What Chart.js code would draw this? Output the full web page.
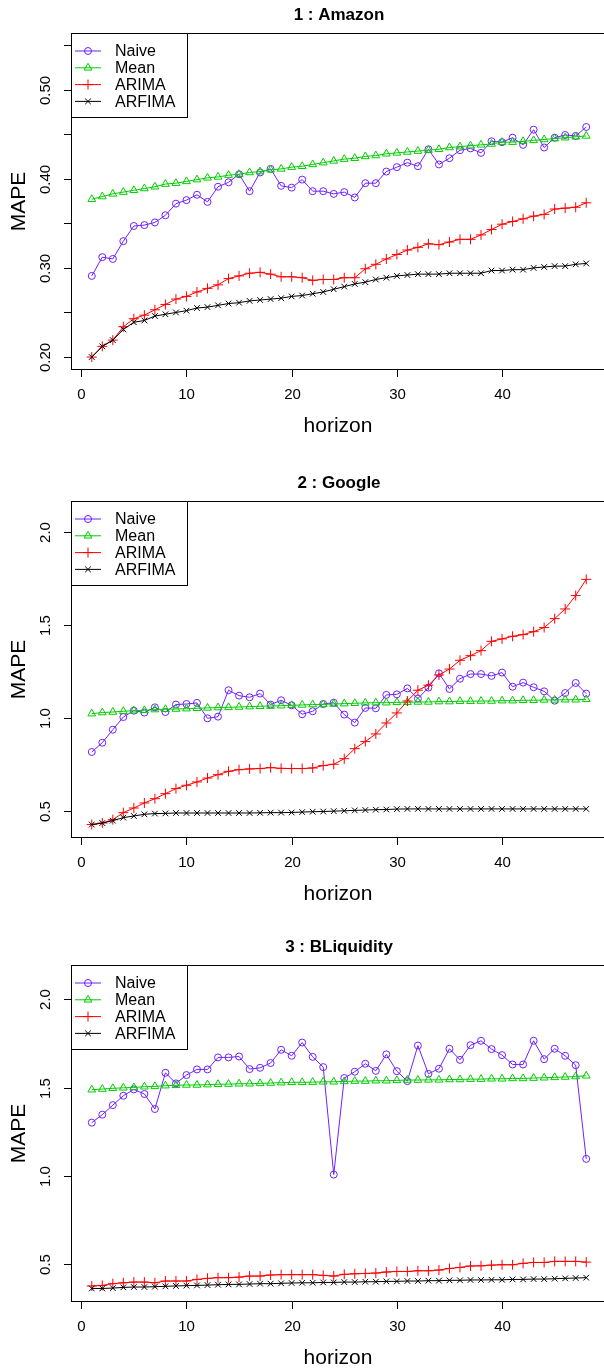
<!DOCTYPE html>
<html>
<head>
<meta charset="utf-8">
<script src="https://cdn.jsdelivr.net/npm/chart.js@4.4.0/dist/chart.umd.min.js"></script>
<style>
    html, body { margin: 0; padding: 0; background: #fff; overflow: hidden; width: 604px; height: 1371px; position: relative; }
    canvas { position: absolute; left: 0; }
</style>
</head>
<body>
<canvas id="amazonChart" width="612" height="466" style="top:0px"></canvas>
<canvas id="googleChart" width="612" height="464" style="top:468px"></canvas>
<canvas id="bliqChart" width="612" height="439" style="top:932px"></canvas>
<script>
/* ============================
   DATA
============================ */
const horizon = [1, 2, 3, 4, 5, 6, 7, 8, 9, 10, 11, 12, 13, 14, 15, 16, 17, 18, 19, 20, 21, 22, 23, 24,
    25, 26, 27, 28, 29, 30, 31, 32, 33, 34, 35, 36, 37, 38, 39, 40, 41, 42, 43, 44, 45, 46, 47, 48];
const seriesNames = ["Naive", "Mean", "ARIMA", "ARFIMA"];
const xTicks = [0, 10, 20, 30, 40];

// ---- 1 : Amazon ----
const amazonNaive = [0.291, 0.312, 0.310, 0.330, 0.347, 0.348, 0.351, 0.359, 0.372, 0.376,
    0.382, 0.374, 0.391, 0.396, 0.405, 0.386, 0.407, 0.411, 0.392, 0.390,
    0.399, 0.386, 0.386, 0.383, 0.385, 0.379, 0.395, 0.395, 0.408, 0.413,
    0.418, 0.414, 0.433, 0.416, 0.423, 0.432, 0.434, 0.429, 0.442, 0.441,
    0.446, 0.438, 0.455, 0.435, 0.446, 0.449, 0.448, 0.458];
const amazonMean = [0.377, 0.380, 0.383, 0.385, 0.387, 0.389, 0.391, 0.394, 0.395, 0.397,
    0.399, 0.401, 0.402, 0.404, 0.405, 0.407, 0.408, 0.410, 0.411, 0.413,
    0.414, 0.416, 0.418, 0.420, 0.422, 0.423, 0.425, 0.426, 0.428, 0.429,
    0.430, 0.431, 0.432, 0.433, 0.435, 0.436, 0.437, 0.438, 0.439, 0.441,
    0.441, 0.442, 0.443, 0.444, 0.445, 0.446, 0.447, 0.448];
const amazonArima = [0.200, 0.212, 0.219, 0.234, 0.243, 0.247, 0.253, 0.259, 0.265, 0.268,
    0.273, 0.277, 0.281, 0.288, 0.291, 0.294, 0.295, 0.293, 0.290, 0.290,
    0.289, 0.286, 0.287, 0.287, 0.289, 0.289, 0.299, 0.304, 0.310, 0.315,
    0.320, 0.323, 0.327, 0.326, 0.329, 0.332, 0.332, 0.337, 0.343, 0.349,
    0.352, 0.355, 0.358, 0.360, 0.366, 0.367, 0.368, 0.373];
const amazonArfima = [0.200, 0.212, 0.219, 0.231, 0.239, 0.241, 0.246, 0.248, 0.250, 0.252,
    0.255, 0.256, 0.258, 0.260, 0.261, 0.263, 0.264, 0.265, 0.266, 0.268,
    0.269, 0.271, 0.273, 0.276, 0.279, 0.282, 0.284, 0.287, 0.289, 0.291,
    0.292, 0.293, 0.293, 0.293, 0.294, 0.294, 0.294, 0.294, 0.297, 0.297,
    0.298, 0.298, 0.300, 0.301, 0.302, 0.302, 0.304, 0.305];
const amazonYTicks = [0.20, 0.25, 0.30, 0.35, 0.40, 0.45, 0.50, 0.55];
const amazonYLabels = ["0.20", "", "0.30", "", "0.40", "", "0.50", ""];

// ---- 2 : Google ----
const googleNaive = [0.817, 0.867, 0.937, 1.005, 1.039, 1.029, 1.057, 1.032, 1.072, 1.075,
    1.081, 0.998, 1.007, 1.149, 1.120, 1.111, 1.131, 1.072, 1.095, 1.068,
    1.020, 1.036, 1.075, 1.082, 1.018, 0.975, 1.054, 1.052, 1.124, 1.127,
    1.159, 1.104, 1.163, 1.240, 1.156, 1.211, 1.236, 1.236, 1.226, 1.244,
    1.168, 1.190, 1.165, 1.143, 1.093, 1.134, 1.188, 1.131];
const googleMean = [1.023, 1.029, 1.032, 1.036, 1.039, 1.041, 1.045, 1.047, 1.048, 1.050,
    1.052, 1.054, 1.056, 1.057, 1.059, 1.061, 1.063, 1.064, 1.066, 1.068,
    1.070, 1.072, 1.073, 1.075, 1.077, 1.079, 1.081, 1.082, 1.082, 1.084,
    1.084, 1.086, 1.086, 1.088, 1.088, 1.090, 1.090, 1.091, 1.091, 1.093,
    1.093, 1.095, 1.095, 1.097, 1.097, 1.098, 1.098, 1.100];
const googleArima = [0.427, 0.435, 0.453, 0.491, 0.516, 0.543, 0.566, 0.593, 0.620, 0.638,
    0.656, 0.677, 0.695, 0.713, 0.722, 0.726, 0.728, 0.733, 0.729, 0.728,
    0.728, 0.731, 0.744, 0.751, 0.781, 0.835, 0.873, 0.914, 0.973, 1.027,
    1.091, 1.149, 1.176, 1.231, 1.263, 1.310, 1.335, 1.362, 1.412, 1.425,
    1.439, 1.448, 1.464, 1.486, 1.534, 1.586, 1.658, 1.745];
const googleArfima = [0.427, 0.435, 0.448, 0.464, 0.473, 0.482, 0.486, 0.487, 0.489, 0.489,
    0.489, 0.489, 0.489, 0.489, 0.489, 0.489, 0.490, 0.491, 0.491, 0.492,
    0.494, 0.496, 0.497, 0.499, 0.501, 0.503, 0.505, 0.507, 0.508, 0.510,
    0.511, 0.511, 0.511, 0.511, 0.511, 0.511, 0.511, 0.511, 0.511, 0.511,
    0.511, 0.511, 0.511, 0.511, 0.511, 0.511, 0.511, 0.511];
const googleYTicks = [0.5, 1.0, 1.5, 2.0];
const googleYLabels = ["0.5", "1.0", "1.5", "2.0"];

// ---- 3 : BLiquidity ----
const bliqNaive = [1.302, 1.347, 1.401, 1.454, 1.490, 1.464, 1.379, 1.584, 1.524, 1.571,
    1.603, 1.603, 1.671, 1.671, 1.676, 1.605, 1.612, 1.639, 1.714, 1.680,
    1.755, 1.674, 1.616, 1.008, 1.554, 1.590, 1.635, 1.595, 1.688, 1.593,
    1.537, 1.738, 1.578, 1.607, 1.720, 1.657, 1.740, 1.765, 1.718, 1.684,
    1.631, 1.631, 1.765, 1.661, 1.720, 1.680, 1.627, 1.097];
const bliqMean = [1.488, 1.492, 1.496, 1.499, 1.501, 1.505, 1.507, 1.511, 1.513, 1.515,
    1.515, 1.517, 1.519, 1.520, 1.522, 1.522, 1.524, 1.526, 1.528, 1.530,
    1.530, 1.531, 1.533, 1.533, 1.535, 1.537, 1.537, 1.539, 1.539, 1.541,
    1.543, 1.543, 1.544, 1.544, 1.546, 1.546, 1.548, 1.548, 1.550, 1.550,
    1.552, 1.552, 1.554, 1.556, 1.558, 1.560, 1.563, 1.567];
const bliqArima = [0.378, 0.381, 0.391, 0.396, 0.400, 0.400, 0.396, 0.406, 0.406, 0.406,
    0.415, 0.421, 0.425, 0.425, 0.428, 0.434, 0.434, 0.440, 0.442, 0.442,
    0.442, 0.442, 0.438, 0.434, 0.444, 0.447, 0.449, 0.451, 0.457, 0.460,
    0.460, 0.464, 0.464, 0.468, 0.477, 0.483, 0.491, 0.492, 0.496, 0.498,
    0.498, 0.506, 0.511, 0.511, 0.517, 0.517, 0.517, 0.513];
const bliqArfima = [0.364, 0.364, 0.366, 0.370, 0.372, 0.372, 0.374, 0.376, 0.378, 0.380,
    0.381, 0.383, 0.385, 0.387, 0.387, 0.389, 0.391, 0.391, 0.393, 0.395,
    0.396, 0.396, 0.398, 0.398, 0.400, 0.400, 0.402, 0.402, 0.404, 0.404,
    0.406, 0.406, 0.408, 0.408, 0.410, 0.410, 0.412, 0.412, 0.413, 0.413,
    0.415, 0.415, 0.417, 0.417, 0.419, 0.421, 0.423, 0.425];
const bliqYTicks = [0.5, 1.0, 1.5, 2.0];
const bliqYLabels = ["0.5", "1.0", "1.5", "2.0"];

/* ============================
   STYLE
============================ */
const FONT = "'Liberation Sans', Arial, Helvetica, sans-serif";
const seriesStyle = [
    { color: "#7020ff", pointStyle: "circle", radius: 3.5 },
    { color: "#00cd00", pointStyle: "triangle", radius: 4.5 },
    { color: "#ff0000", pointStyle: "cross", radius: 5 },
    { color: "#000000", pointStyle: "crossRot", radius: 4 },
];

// ======== R-LIKE FRAME, AXES, TITLE, LEGEND ========
const rFrame = {
    id: "rFrame",
    afterDraw(chart, args, opts) {
        const ctx = chart.ctx;
        const area = chart.chartArea;
        const xs = chart.scales.x;
        const ys = chart.scales.y;
        ctx.save();
        ctx.strokeStyle = "#000";
        ctx.fillStyle = "#000";
        ctx.lineWidth = 1;

        // box
        ctx.strokeRect(area.left - 0.5, area.top - 0.5, area.right - area.left + 1, area.bottom - area.top + 1);

        // x ticks + labels
        ctx.font = "15px " + FONT;
        ctx.textAlign = "center";
        ctx.textBaseline = "middle";
        xTicks.forEach((t) => {
            const px = Math.round(xs.getPixelForValue(t)) + 0.5;
            ctx.beginPath();
            ctx.moveTo(px, area.bottom);
            ctx.lineTo(px, area.bottom + 8);
            ctx.stroke();
            ctx.fillText(String(t), px, area.bottom + 26);
        });

        // y ticks + rotated labels
        opts.yTicks.forEach((t, i) => {
            const py = Math.round(ys.getPixelForValue(t)) + 0.5;
            ctx.beginPath();
            ctx.moveTo(area.left - 8, py);
            ctx.lineTo(area.left, py);
            ctx.stroke();
            if (opts.yLabels[i]) {
                ctx.save();
                ctx.translate(46, py);
                ctx.rotate(-Math.PI / 2);
                ctx.fillText(opts.yLabels[i], 0, 0);
                ctx.restore();
            }
        });

        // axis titles
        ctx.font = "21px " + FONT;
        ctx.fillText("horizon", (area.left + area.right) / 2 - 1, area.bottom + 57);
        ctx.save();
        ctx.translate(19, (area.top + area.bottom) / 2);
        ctx.rotate(-Math.PI / 2);
        ctx.fillText("MAPE", 0, 0);
        ctx.restore();

        // main title
        ctx.font = "bold 17px " + FONT;
        ctx.fillText(opts.title, (area.left + area.right) / 2, area.top - 19);

        // legend box
        const lx = area.left - 0.5, ly = area.top - 0.5;
        ctx.fillStyle = "#fff";
        ctx.fillRect(lx, ly, 116, 84);
        ctx.strokeRect(lx, ly, 116, 84);
        ctx.font = "16px " + FONT;
        ctx.textAlign = "left";
        seriesNames.forEach((name, i) => {
            const st = seriesStyle[i];
            const yy = area.top + 17 + i * 16.8;
            ctx.strokeStyle = st.color;
            ctx.beginPath();
            ctx.moveTo(area.left + 3, yy);
            ctx.lineTo(area.left + 29, yy);
            ctx.stroke();
            ctx.fillStyle = "rgba(0,0,0,0)";
            Chart.helpers.drawPoint(ctx, {
                pointStyle: st.pointStyle,
                radius: st.radius,
                borderWidth: 1,
            }, area.left + 16, yy);
            ctx.fillStyle = "#000";
            ctx.fillText(name, area.left + 43, yy + 1);
        });
        ctx.restore();
    },
};

// ======== BUILD ONE PANEL ========
function makePanel(canvasId, title, series, yMin, yMax, yTicks, yLabels) {
    const canvas = document.getElementById(canvasId);
    const bottomPad = canvas.height - 34 - 335;
    return new Chart(canvas, {
        type: "line",
        data: {
            datasets: series.map((vals, i) => ({
                label: seriesNames[i],
                data: horizon.map((h, k) => ({ x: h, y: vals[k] })),
                borderColor: seriesStyle[i].color,
                backgroundColor: "transparent",
                borderWidth: 1,
                pointStyle: seriesStyle[i].pointStyle,
                pointRadius: seriesStyle[i].radius,
                pointBorderWidth: 1,
                pointBorderColor: seriesStyle[i].color,
                pointBackgroundColor: "transparent",
                tension: 0,
                fill: false,
                order: 4 - i,
            })),
        },
        options: {
            responsive: false,
            animation: false,
            events: [],
            layout: { padding: { left: 72, right: 3, top: 34, bottom: bottomPad } },
            plugins: {
                legend: { display: false },
                tooltip: { enabled: false },
                rFrame: { title: title, yTicks: yTicks, yLabels: yLabels },
            },
            scales: {
                x: { type: "linear", min: -0.88, max: 49.88, display: false },
                y: { type: "linear", min: yMin, max: yMax, display: false },
            },
        },
        plugins: [rFrame],
    });
}

makePanel("amazonChart", "1 : Amazon",
    [amazonNaive, amazonMean, amazonArima, amazonArfima], 0.1866, 0.5623, amazonYTicks, amazonYLabels);
makePanel("googleChart", "2 : Google",
    [googleNaive, googleMean, googleArima, googleArfima], 0.360, 2.161, googleYTicks, googleYLabels);
makePanel("bliqChart", "3 : BLiquidity",
    [bliqNaive, bliqMean, bliqArima, bliqArfima], 0.293, 2.188, bliqYTicks, bliqYLabels);
</script>
</body>
</html>
